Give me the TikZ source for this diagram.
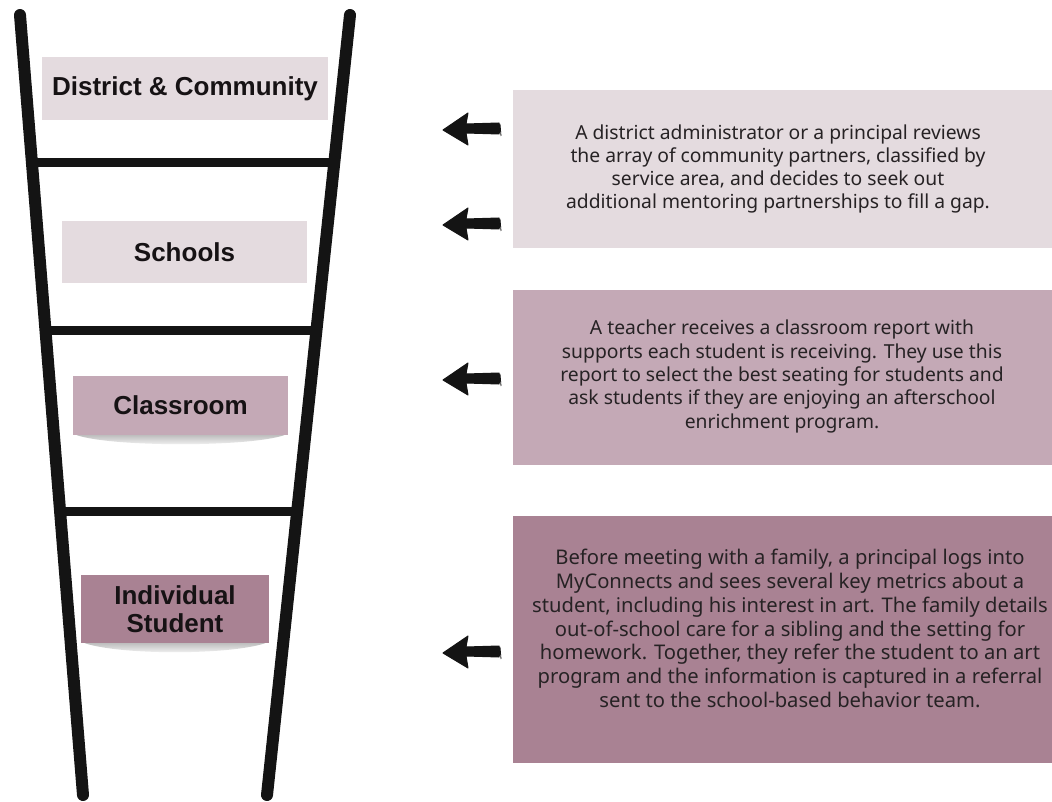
\documentclass[tikz,border=0pt]{standalone}
\usepackage{fontspec}
\setmainfont{Noto Sans}
\newfontfamily\labelfont{Liberation Sans}
\usetikzlibrary{calc}

\definecolor{railink}{HTML}{141414}
\definecolor{palerose}{HTML}{E4DBDF}
\definecolor{midrose}{HTML}{C4A9B6}
\definecolor{deeprose}{HTML}{A98293}
\definecolor{bodyink}{HTML}{262224}
\definecolor{labelink}{HTML}{161214}

\tikzset{
  rail/.style={line width=12pt, line cap=round, draw=railink},
  rung/.style={line width=9pt, line cap=round, draw=railink},
  levelbox/.style={inner sep=0pt, font=\labelfont\fontsize{26}{28}\selectfont\bfseries,
                   text=labelink, align=center},
  storybox/.style={inner sep=0pt, draw=none},
  storytext/.style={font=\fontsize{19.3}{23.3}\selectfont, text=bodyink, align=center},
  pointer/.style={fill=railink, draw=railink, line width=1pt, line join=round},
}

% curved soft shadow under a box
\newcommand{\undershade}[1]{%
  \shade[top color=black!25, bottom color=white]
    ($(#1.south west)+(4,0)$) .. controls ($(#1.south west)+(40,12)$) and ($(#1.south east)+(-40,12)$) .. ($(#1.south east)+(-4,0)$) -- cycle;
}

% hand-drawn style left-pointing arrow, tip at the given point
\newcommand{\leftpointer}[1]{%
  \fill[pointer] (#1) -- ++(25,-17) -- ++(-2,11) -- ++(33,-1) -- ++(1,6) -- ++(-1,5) -- ++(-33,-1) -- ++(2,12) -- cycle;
  \draw[railink, line width=0.8pt] ($(#1)+(57,-6)$) -- ($(#1)+(58,6)$);
}

\begin{document}
\begin{tikzpicture}[x=1pt, y=-1pt]
\useasboundingbox[fill=white] (0,0) rectangle (1052,802);

% ladder rails
\coordinate (lt) at (20,15);
\coordinate (lb) at (83,795);
\coordinate (rt) at (350,15);
\coordinate (rb) at (267,795);

% story boxes on the right
\node[storybox, fill=palerose, minimum width=539pt, minimum height=158pt] (boxA) at (782.5,169) {};
\node[storybox, fill=midrose, minimum width=539pt, minimum height=175pt] (boxB) at (782.5,377.5) {};
\node[storybox, fill=deeprose, minimum width=539pt, minimum height=247pt] (boxC) at (782.5,639.5) {};

\node[storytext] (txtA) at (778,169) {A district administrator or a principal reviews\\
the array of community partners, classified by\\
service area, and decides to seek out\\
additional mentoring partnerships to fill a gap.};

\node[storytext] (txtB) at (782,376.5) {A teacher receives a classroom report with\\
supports each student is receiving. They use this\\
report to select the best seating for students and\\
ask students if they are enjoying an afterschool\\
enrichment program.};

\node[storytext, font=\fontsize{20.2}{23.8}\selectfont] (txtC) at (790,628.5) {Before meeting with a family, a principal logs into\\
MyConnects and sees several key metrics about a\\
student, including his interest in art. The family details\\
out-of-school care for a sibling and the setting for\\
homework. Together, they refer the student to an art\\
program and the information is captured in a referral\\
sent to the school-based behavior team.};

% level labels
\node[levelbox, fill=palerose, minimum width=286pt, minimum height=63pt] (district) at (185,88.5) {District \& Community};
\node[levelbox, fill=palerose, minimum width=245pt, minimum height=62pt] (schools) at (184.5,252) {Schools};
\node[levelbox, fill=midrose, minimum width=215pt, minimum height=59pt] (classroom) at (180.5,405.5) {Classroom};
\node[levelbox, fill=deeprose, minimum width=188pt, minimum height=68pt] (student) at (175,609) {Individual\\Student};

\undershade{classroom}
\undershade{student}

% ladder
\draw[rail] (lt) -- (lb);
\draw[rail] (rt) -- (rb);
\draw[rung] ($(lt)!0.1897!(lb)$) -- ($(rt)!0.1897!(rb)$);
\draw[rung] ($(lt)!0.405!(lb)$) -- ($(rt)!0.405!(rb)$);
\draw[rung] ($(lt)!0.636!(lb)$) -- ($(rt)!0.636!(rb)$);

% pointers toward the ladder
\coordinate (pA) at (443,130);
\coordinate (pB) at (443,225);
\coordinate (pC) at (443,380);
\coordinate (pD) at (443,653);
\leftpointer{pA}
\leftpointer{pB}
\leftpointer{pC}
\leftpointer{pD}
\end{tikzpicture}
\end{document}
